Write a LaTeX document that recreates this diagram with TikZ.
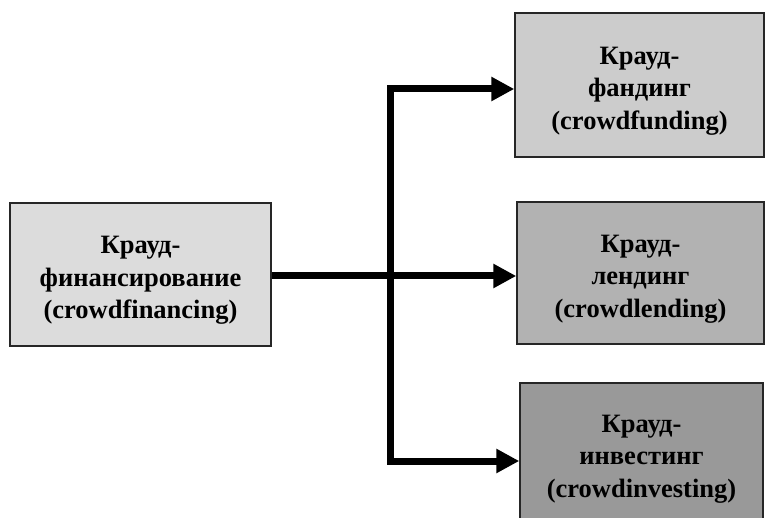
\documentclass[tikz,border=0pt]{standalone}
\usepackage{fontspec}
\setmainfont{Liberation Serif}
\usetikzlibrary{arrows.meta}
\definecolor{cLeft}{RGB}{220,220,220}
\definecolor{cTop}{RGB}{204,204,204}
\definecolor{cMid}{RGB}{178,178,178}
\definecolor{cBot}{RGB}{153,153,153}
\tikzset{
  boxnode/.style={draw=black!85, line width=1.5pt, inner sep=0pt},
  boxtext/.style={align=center, inner sep=0pt,
    font=\fontsize{26.5}{32.5}\selectfont\bfseries},
  conn/.style={line width=7pt, draw=black},
  tipA/.tip={Triangle[length=23pt,width=23pt]}
}
\begin{document}
\begin{tikzpicture}[x=1pt,y=-1pt]
\useasboundingbox (0,0) rectangle (765,518);
\clip (0,0) rectangle (765,518);
\node[boxnode, fill=cLeft, minimum width=261pt, minimum height=143pt,
  label={[boxtext, yshift=-6pt]center:{Крауд-\\финансирование\\(crowdfinancing)}}] (left) at (140.5,274.5) {};
\node[boxnode, fill=cTop, minimum width=249pt, minimum height=144pt,
  label={[boxtext, yshift=-6pt]center:{Крауд-\\фандинг\\(crowdfunding)}}] (top) at (639.5,85) {};
\node[boxnode, fill=cMid, minimum width=247pt, minimum height=142pt,
  label={[boxtext, yshift=-6pt]center:{Крауд-\\лендинг\\(crowdlending)}}] (mid) at (640.5,273) {};
\node[boxnode, fill=cBot, minimum width=243pt, minimum height=146pt,
  label={[boxtext, yshift=-3pt]center:{Крауд-\\инвестинг\\(crowdinvesting)}}] (bot) at (641.5,456) {};
\coordinate (jt) at (390,89);
\coordinate (jm) at (390,276);
\coordinate (jb) at (390,461);
\draw[conn, {tipA}-{tipA}] (top.west |- jt) -- (jt) -- (jb) -- (bot.west |- jb);
\draw[conn, -{tipA}] (left.east |- jm) -- (mid.west |- jm);
\end{tikzpicture}
\end{document}
